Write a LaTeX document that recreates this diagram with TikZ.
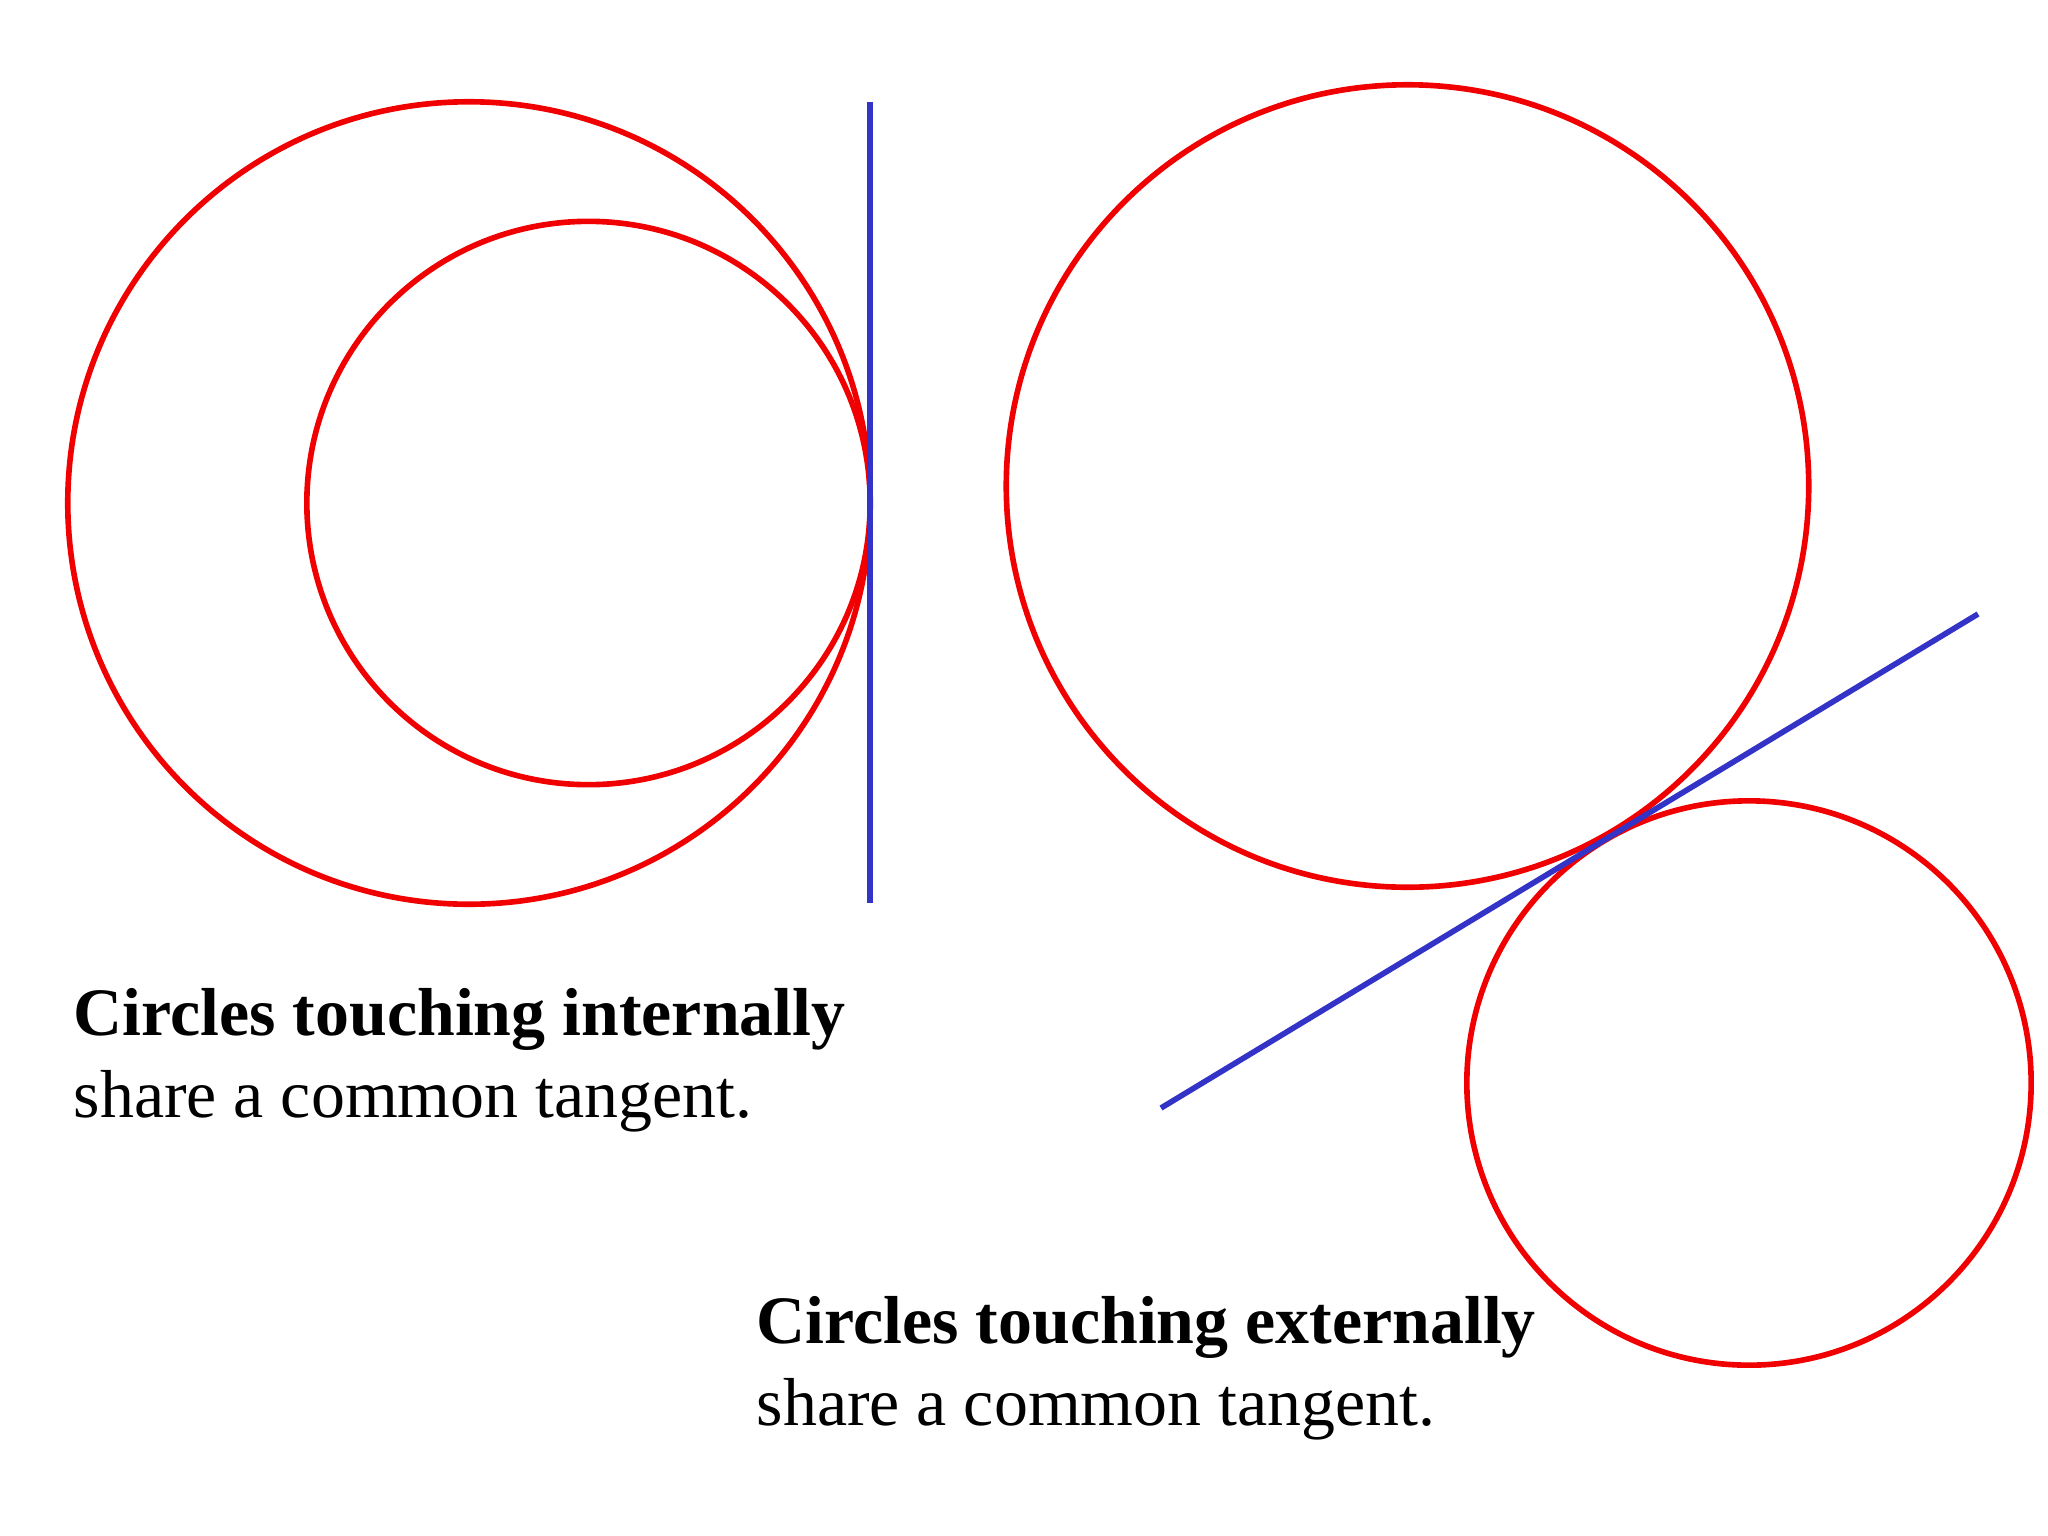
\documentclass[tikz,border=0pt]{standalone}
\usepackage{fontspec}
\setmainfont{Liberation Serif}
\usepackage{tikz}
\definecolor{circred}{RGB}{240,0,0}
\definecolor{tanblue}{RGB}{51,51,200}

\begin{document}
\begin{tikzpicture}[x=0.01cm,y=-0.01cm,
                    circ/.style={line width=1.6pt,circred},
                    tang/.style={line width=1.6pt,tanblue},
                    caption/.style={anchor=base west,inner sep=0pt,font=\fontsize{19.3}{23}\selectfont}]
                        \useasboundingbox (0,0) rectangle (2048,1536);

                        \coordinate (bigL) at (469,503);
                        \coordinate (smallL) at (588.5,503);
                        \draw[circ] (bigL) circle[radius=4.01cm];
                        \draw[circ] (smallL) circle[radius=2.815cm];
                        \coordinate (tanLtop) at (870,102);
                        \coordinate (tanLbot) at (870,903);
                        \draw[tang] (tanLtop) -- (tanLbot);

                        \coordinate (bigR) at (1407.5,486);
                        \coordinate (smallR) at (1749,1083);
                        \draw[circ] (bigR) circle[radius=4.01cm];
                        \draw[circ] (smallR) circle[radius=2.82cm];
                        \coordinate (tanRlow) at (1161,1108);
                        \coordinate (tanRhigh) at (1978,614);
                        \draw[tang] (tanRlow) -- (tanRhigh);

                        \node[caption] (intA) at (73,1035) {\textbf{Circles touching internally}};
                        \node[caption] (intB) at (73,1117) {share a common tangent.};
                        \node[caption] (extA) at (756,1343) {\textbf{Circles touching externally}};
                        \node[caption] (extB) at (756,1425) {share a common tangent.};
                    \end{tikzpicture}
\end{document}
